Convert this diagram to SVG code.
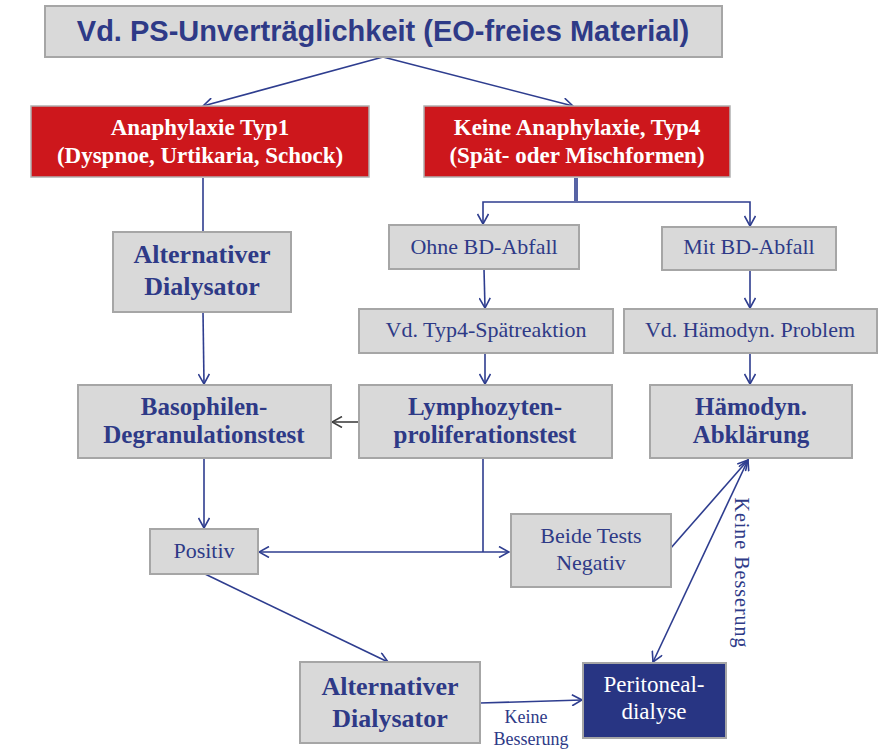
<svg xmlns="http://www.w3.org/2000/svg" width="884" height="750" viewBox="0 0 884 750">
<style>
.box{fill:#d9d9d9;stroke:#a6a6a6;stroke-width:2}
.red{fill:#cd171c;stroke:#b0b0b0;stroke-width:1.5}
.navy{fill:#283583;stroke:#a6a6a6;stroke-width:2}
.t{font-family:"Liberation Serif",serif;fill:#2e3a87;text-anchor:middle}
.b{font-weight:bold}
.w{fill:#ffffff}
.ln{stroke:#2e3d8f;stroke-width:1.6;fill:none}
</style>
<defs>
<marker id="ah" viewBox="0 0 12 12" refX="11" refY="6" markerWidth="12" markerHeight="12" markerUnits="userSpaceOnUse" orient="auto-start-reverse">
<path d="M1,0.5 L11,6 L1,11.5" fill="none" stroke="#2e3d8f" stroke-width="1.6"/>
</marker>
<marker id="ahg" viewBox="0 0 12 12" refX="11" refY="6" markerWidth="12" markerHeight="12" markerUnits="userSpaceOnUse" orient="auto">
<path d="M1,0.5 L11,6 L1,11.5" fill="none" stroke="#404040" stroke-width="1.6"/>
</marker>
</defs>

<g id="connectors">
<path class="ln" d="M383,57 L203,106" marker-end="url(#ah)"/>
<path class="ln" d="M383,57 L573,106" marker-end="url(#ah)"/>
<path class="ln" d="M203,178 L203,232"/>
<path class="ln" d="M575,178 L575,201 M577,178 L577,201"/>
<path class="ln" d="M576,202 L483,202 L483,224" marker-end="url(#ah)"/>
<path class="ln" d="M576,202 L750,202 L750,226" marker-end="url(#ah)"/>
<path class="ln" d="M484,269 L485,308" marker-end="url(#ah)"/>
<path class="ln" d="M750,270 L750,308" marker-end="url(#ah)"/>
<path class="ln" d="M203,312 L204,384" marker-end="url(#ah)"/>
<path class="ln" d="M485,353 L485,384" marker-end="url(#ah)"/>
<path class="ln" d="M750,353 L750,384" marker-end="url(#ah)"/>
<path d="M359,422 L332,422" stroke="#404040" stroke-width="1.6" fill="none" marker-end="url(#ahg)"/>
<path class="ln" d="M204,458 L204,528" marker-end="url(#ah)"/>
<path class="ln" d="M483,458 L483,552"/>
<path class="ln" d="M259,552 L509,552" marker-start="url(#ah)" marker-end="url(#ah)"/>
<path class="ln" d="M670,549 L748,460" marker-end="url(#ah)"/>
<path class="ln" d="M748,460 L653,662" marker-start="url(#ah)" marker-end="url(#ah)"/>
<path class="ln" d="M205,574 L388,662" marker-end="url(#ah)"/>
<path class="ln" d="M480,703 L582,700" marker-end="url(#ah)"/>
<text class="t" font-size="20" letter-spacing="1" transform="translate(735,573) rotate(90)">Keine Besserung</text>
<text class="t" font-size="18" x="526" y="723">Keine</text>
<text class="t" font-size="18" x="531" y="745">Besserung</text>
</g>

<g id="title">
<rect class="box" x="45" y="6" width="677" height="51"/>
<text x="383" y="41" font-family="'Liberation Sans',Arial,sans-serif" font-weight="bold" font-size="29" fill="#2e3a87" text-anchor="middle">Vd. PS-Unverträglichkeit (EO-freies Material)</text>
</g>

<g id="anaphylaxie">
<rect class="red" x="31" y="106" width="338" height="71"/>
<text class="t b w" font-size="23" x="200" y="135">Anaphylaxie Typ1</text>
<text class="t b w" font-size="23" x="200" y="163">(Dyspnoe, Urtikaria, Schock)</text>
</g>

<g id="keine-anaphylaxie">
<rect class="red" x="424" y="106" width="306" height="71"/>
<text class="t b w" font-size="23" x="577" y="135">Keine Anaphylaxie, Typ4</text>
<text class="t b w" font-size="23" x="577" y="163">(Spät- oder Mischformen)</text>
</g>

<g id="alt-dialysator-1">
<rect class="box" x="113" y="232" width="178" height="80"/>
<text class="t b" font-size="26" x="202" y="263">Alternativer</text>
<text class="t b" font-size="26" x="202" y="295">Dialysator</text>
</g>

<g id="ohne-bd">
<rect class="box" x="389" y="225" width="190" height="44"/>
<text class="t" font-size="22" x="484" y="254">Ohne BD-Abfall</text>
</g>

<g id="mit-bd">
<rect class="box" x="662" y="227" width="174" height="43"/>
<text class="t" font-size="22" x="749" y="254">Mit BD-Abfall</text>
</g>

<g id="typ4">
<rect class="box" x="359" y="309" width="254" height="44"/>
<text class="t" font-size="22" x="486" y="337">Vd. Typ4-Spätreaktion</text>
</g>

<g id="haemodyn-problem">
<rect class="box" x="624" y="309" width="253" height="44"/>
<text class="t" font-size="22" x="750" y="337">Vd. Hämodyn. Problem</text>
</g>

<g id="basophilen">
<rect class="box" x="78" y="385" width="253" height="73"/>
<text class="t b" font-size="25" x="204" y="415">Basophilen-</text>
<text class="t b" font-size="25" x="204" y="443">Degranulationstest</text>
</g>

<g id="lymphozyten">
<rect class="box" x="359" y="385" width="253" height="73"/>
<text class="t b" font-size="25" x="485" y="415">Lymphozyten-</text>
<text class="t b" font-size="25" x="485" y="443">proliferationstest</text>
</g>

<g id="haemodyn-abklaerung">
<rect class="box" x="650" y="385" width="202" height="73"/>
<text class="t b" font-size="25" x="751" y="415">Hämodyn.</text>
<text class="t b" font-size="25" x="751" y="443">Abklärung</text>
</g>

<g id="positiv">
<rect class="box" x="150" y="529" width="108" height="45"/>
<text class="t" font-size="22" x="204" y="558">Positiv</text>
</g>

<g id="beide-negativ">
<rect class="box" x="511" y="514" width="160" height="73"/>
<text class="t" font-size="22" x="591" y="543">Beide Tests</text>
<text class="t" font-size="22" x="591" y="570">Negativ</text>
</g>

<g id="alt-dialysator-2">
<rect class="box" x="300" y="662" width="180" height="81"/>
<text class="t b" font-size="26" x="390" y="695">Alternativer</text>
<text class="t b" font-size="26" x="390" y="727">Dialysator</text>
</g>

<g id="peritonealdialyse">
<rect class="navy" x="583" y="663" width="143" height="75"/>
<text class="t w" font-size="23" x="654" y="692">Peritoneal-</text>
<text class="t w" font-size="23" x="654" y="719">dialyse</text>
</g>
</svg>
